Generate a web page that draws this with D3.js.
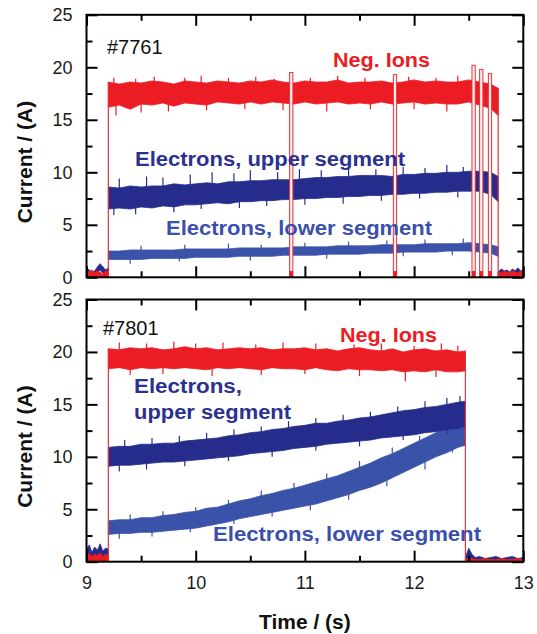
<!DOCTYPE html>
<html>
<head>
<meta charset="utf-8">
<script src="https://cdn.jsdelivr.net/npm/d3@7"></script>
<style>
  html, body { margin: 0; padding: 0; background: #fff; }
  svg { display: block; font-family: "Liberation Sans", Arial, sans-serif; }
  .tick text { font-size: 18px; fill: #1a1a1a; }
  .tick line { stroke: #000; stroke-width: 2px; }
</style>
</head>
<body>
<svg id="chart" width="537" height="634"></svg>
<script>
// ---- data (Time in s, Current in A) ----

// shot #7761 (upper panel): envelope of each noisy trace, sampled every 0.1 s
const timeA = [9.2, 9.3, 9.4, 9.5, 9.6, 9.7, 9.8, 9.9, 10.0, 10.1, 10.2, 10.3, 10.4, 10.5, 10.6, 10.7, 10.8, 10.9,
  11.0, 11.1, 11.2, 11.3, 11.4, 11.5, 11.6, 11.7, 11.8, 11.9, 12.0, 12.1, 12.2, 12.3, 12.4, 12.5, 12.6, 12.7, 12.77];
const ionsHiA = [18.6, 18.4, 18.6, 18.5, 18.7, 18.6, 18.4, 18.7, 18.6, 18.5, 18.7, 18.6, 18.5, 18.7, 18.6, 18.8, 18.6, 18.5,
  18.7, 18.6, 18.6, 18.8, 18.5, 18.6, 18.6, 18.7, 18.5, 18.6, 18.8, 18.6, 18.7, 18.6, 18.6, 18.8, 18.6, 18.4, 18.0];
const ionsLoA = [16.2, 16.4, 16.0, 16.5, 16.4, 16.6, 16.3, 16.6, 16.5, 16.4, 16.7, 16.6, 16.5, 16.7, 16.5, 16.7, 16.6, 16.5,
  16.7, 16.5, 16.6, 16.7, 16.5, 16.6, 16.5, 16.7, 16.5, 16.6, 16.7, 16.5, 16.6, 16.5, 16.5, 16.7, 16.4, 16.1, 15.4];
const upperHiA = [8.6, 8.5, 8.7, 8.6, 8.7, 8.7, 8.9, 8.8, 8.9, 9.0, 8.9, 9.1, 9.1, 9.2, 9.2, 9.3, 9.3, 9.3,
  9.4, 9.5, 9.5, 9.6, 9.6, 9.7, 9.7, 9.7, 9.6, 9.8, 9.8, 9.9, 9.9, 10.0, 10.0, 10.1, 10.1, 10.0, 9.6];
const upperLoA = [6.5, 6.6, 6.5, 6.7, 6.6, 6.8, 6.7, 6.9, 6.9, 7.0, 7.1, 7.0, 7.2, 7.2, 7.3, 7.3, 7.4, 7.4,
  7.5, 7.5, 7.6, 7.6, 7.7, 7.7, 7.8, 7.8, 7.9, 7.9, 8.0, 8.0, 8.1, 8.1, 8.2, 8.2, 8.2, 7.9, 7.2];
const lowerHiA = [2.5, 2.5, 2.6, 2.6, 2.6, 2.6, 2.6, 2.7, 2.7, 2.7, 2.7, 2.7, 2.8, 2.8, 2.8, 2.8, 2.8, 2.9,
  2.9, 2.9, 2.9, 3.0, 3.0, 3.0, 3.0, 3.1, 3.1, 3.1, 3.1, 3.2, 3.2, 3.2, 3.2, 3.3, 3.2, 3.1, 2.9];
const lowerLoA = [1.7, 1.7, 1.7, 1.7, 1.8, 1.8, 1.8, 1.8, 1.9, 1.9, 1.9, 1.9, 2.0, 2.0, 2.0, 2.0, 2.1, 2.1,
  2.1, 2.1, 2.2, 2.2, 2.2, 2.2, 2.3, 2.3, 2.3, 2.4, 2.4, 2.4, 2.4, 2.5, 2.5, 2.5, 2.4, 2.3, 2.0];
// spikes sticking out of each trace: [time, tip value]
const ionsSpikesA = [[9.25, 19.0], [9.45, 18.9], [9.62, 19.1], [9.9, 19.0], [10.05, 19.2], [10.3, 19.0], [10.55, 19.1],
  [10.72, 18.9], [11.05, 19.0], [11.3, 19.2], [11.55, 19.0], [11.95, 19.1], [12.2, 19.0], [12.4, 19.2],
  [9.27, 15.4], [9.5, 15.7], [9.75, 15.8], [10.1, 15.9], [10.45, 16.0], [10.8, 15.9], [11.2, 15.8], [11.6, 16.0],
  [12.0, 16.0], [12.3, 15.8]];
const upperSpikesA = [[9.3, 9.4], [9.55, 9.6], [9.7, 9.5], [9.95, 9.8], [10.15, 10.0], [10.35, 9.9], [10.5, 10.2],
  [10.75, 10.0], [10.95, 10.3], [11.15, 10.2], [11.4, 10.4], [11.65, 10.3], [11.9, 10.5], [12.1, 10.4], [12.3, 10.7],
  [12.45, 10.5], [12.62, 10.4],
  [9.25, 5.9], [9.45, 6.0], [9.8, 6.2], [10.05, 6.5], [10.4, 6.6], [10.65, 6.8], [11.0, 6.9], [11.35, 7.0],
  [11.7, 7.3], [12.05, 7.5], [12.4, 7.6]];
const lowerSpikesA = [[9.5, 3.0], [9.9, 3.1], [10.3, 3.2], [10.6, 3.1], [11.0, 3.3], [11.4, 3.4], [11.75, 3.5],
  [12.1, 3.6], [12.45, 3.7], [9.4, 1.3], [9.85, 1.5], [10.5, 1.6], [11.2, 1.8], [11.9, 2.0], [12.35, 2.1]];
// beam interruptions in #7761: [start, end, peak of the red trace]
const tripsA = [[10.86, 10.89, 19.5], [11.81, 11.84, 19.3], [12.53, 12.56, 20.2], [12.60, 12.63, 19.8], [12.68, 12.71, 19.4]];

// shot #7801 (lower panel)
const timeB = [9.2, 9.3, 9.4, 9.5, 9.6, 9.7, 9.8, 9.9, 10.0, 10.1, 10.2, 10.3, 10.4, 10.5, 10.6, 10.7, 10.8, 10.9,
  11.0, 11.1, 11.2, 11.3, 11.4, 11.5, 11.6, 11.7, 11.8, 11.9, 12.0, 12.1, 12.2, 12.3, 12.4, 12.47];
const ionsHiB = [20.3, 20.2, 20.4, 20.3, 20.4, 20.2, 20.3, 20.5, 20.3, 20.4, 20.2, 20.3, 20.4, 20.3, 20.4, 20.2, 20.3, 20.3,
  20.4, 20.2, 20.3, 20.1, 20.3, 20.4, 20.2, 20.1, 20.3, 20.0, 20.2, 20.3, 20.1, 20.2, 20.0, 20.1];
const ionsLoB = [18.4, 18.5, 18.3, 18.5, 18.4, 18.5, 18.4, 18.5, 18.4, 18.3, 18.5, 18.4, 18.5, 18.4, 18.3, 18.5, 18.4, 18.4,
  18.3, 18.5, 18.3, 18.2, 18.4, 18.3, 18.3, 18.2, 18.3, 18.1, 18.2, 18.1, 18.3, 18.1, 18.1, 18.2];
const upperHiB = [10.9, 11.0, 11.0, 11.2, 11.2, 11.3, 11.3, 11.5, 11.6, 11.7, 11.8, 12.0, 12.1, 12.3, 12.4, 12.6, 12.7, 12.9,
  13.0, 13.2, 13.2, 13.4, 13.5, 13.7, 13.8, 14.0, 14.2, 14.4, 14.5, 14.7, 14.8, 15.0, 15.2, 15.3];
const upperLoB = [9.1, 9.2, 9.2, 9.3, 9.4, 9.5, 9.5, 9.6, 9.7, 9.8, 9.9, 10.0, 10.1, 10.3, 10.4, 10.5, 10.6, 10.8,
  10.9, 11.0, 11.2, 11.3, 11.4, 11.5, 11.6, 11.8, 11.9, 12.0, 12.1, 12.3, 12.4, 12.6, 12.7, 12.9];
const lowerHiB = [3.9, 4.0, 4.0, 4.2, 4.2, 4.4, 4.5, 4.7, 4.8, 5.1, 5.2, 5.5, 5.8, 6.0, 6.3, 6.5, 6.8, 7.0,
  7.3, 7.6, 7.9, 8.2, 8.6, 9.0, 9.4, 9.9, 10.3, 10.8, 11.3, 11.8, 12.3, 12.8, 13.2, 13.4];
const lowerLoB = [2.6, 2.7, 2.7, 2.8, 2.8, 2.9, 3.0, 3.1, 3.2, 3.4, 3.6, 3.8, 4.1, 4.3, 4.5, 4.7, 4.9, 5.1,
  5.3, 5.5, 5.8, 6.1, 6.4, 6.8, 7.1, 7.5, 8.0, 8.5, 9.0, 9.5, 10.0, 10.4, 10.9, 11.1];
const ionsSpikesB = [[9.3, 20.9], [9.55, 20.8], [9.8, 21.0], [10.0, 20.8], [10.25, 20.9], [10.55, 20.7], [10.8, 20.9],
  [11.1, 20.8], [11.45, 20.7], [11.7, 20.8], [12.0, 20.6], [12.25, 20.8], [12.4, 20.6],
  [9.4, 17.8], [9.7, 17.9], [10.15, 17.7], [10.6, 17.8], [11.0, 17.9], [11.5, 17.7], [11.92, 17.2], [12.2, 17.6]];
const upperSpikesB = [[9.35, 11.6], [9.6, 11.8], [9.85, 12.0], [10.1, 12.3], [10.35, 12.6], [10.6, 12.9], [10.85, 13.4],
  [11.1, 13.7], [11.35, 14.0], [11.6, 14.3], [11.85, 14.8], [12.1, 15.3], [12.3, 15.6], [12.42, 15.8],
  [9.3, 8.6], [9.55, 8.8], [9.9, 9.1], [10.3, 9.6], [10.7, 10.0], [11.1, 10.6], [11.5, 11.0], [11.9, 11.6], [12.3, 12.2]];
const lowerSpikesB = [[9.4, 4.5], [9.7, 4.8], [10.0, 5.2], [10.3, 5.9], [10.6, 6.8], [10.9, 7.5], [11.2, 8.4],
  [11.5, 9.6], [11.8, 10.9], [12.05, 12.0], [12.3, 13.4],
  [9.3, 2.2], [9.6, 2.4], [9.95, 2.8], [10.35, 3.6], [10.7, 4.3], [11.05, 4.9], [11.4, 5.9], [11.75, 7.2],
  [12.1, 8.8], [12.35, 10.4]];
const tripsB = [];

// background (beam off) before and after the pulse
const offPreTime = [9.0, 9.025, 9.05, 9.075, 9.1, 9.125, 9.15, 9.175, 9.2];
const offPreBlueHiA = [0.9, 0.7, 0.5, 0.6, 1.0, 1.3, 1.0, 0.7, 0.9];
const offPreBlueLoA = [0.4, 0.2, 0.0, 0.1, 0.5, 0.7, 0.4, 0.2, 0.3];
const offPreRedA = [0.6, 0.5, 0.7, 0.4, 0.6, 0.5, 0.3, 0.6, 0.5];
const offPostTimeA = [12.77, 12.8, 12.825, 12.85, 12.875, 12.9, 12.925, 12.95, 12.975, 13.0];
const offPostBlueHiA = [0.5, 0.8, 0.6, 0.7, 0.5, 0.8, 0.6, 0.9, 0.6, 0.7];
const offPostBlueLoA = [0.1, 0.3, 0.2, 0.3, 0.1, 0.3, 0.2, 0.4, 0.2, 0.3];
const offPostRedA = [0.5, 0.4, 0.6, 0.5, 0.4, 0.6, 0.5, 0.4, 0.6, 0.5];
const offPreBlueHiB = [1.2, 1.6, 0.9, 1.4, 1.1, 1.7, 1.0, 1.3, 1.2];
const offPreBlueLoB = [0.2, 0.4, 0.1, 0.3, 0.2, 0.5, 0.1, 0.3, 0.2];
const offPreRedB = [0.6, 0.8, 0.5, 0.7, 0.6, 0.8, 0.5, 0.7, 0.6];
const offPostTimeB = [12.47, 12.5, 12.53, 12.56, 12.6, 12.65, 12.7, 12.75, 12.8, 12.85, 12.9, 12.95, 13.0];
const offPostBlueHiB = [0.4, 1.3, 0.7, 0.4, 0.5, 0.3, 0.4, 0.5, 0.3, 0.4, 0.5, 0.3, 0.4];
const offPostBlueLoB = [0.1, 0.2, 0.1, 0.1, 0.2, 0.1, 0.1, 0.2, 0.1, 0.1, 0.2, 0.1, 0.1];
const offPostRedB = [0.3, 0.2, 0.3, 0.2, 0.2, 0.3, 0.2, 0.2, 0.3, 0.2, 0.2, 0.3, 0.2];

// axes
const xMajor = [9, 10, 11, 12, 13];
const xMinor = [9.5, 10.5, 11.5, 12.5];
const yMajor = [0, 5, 10, 15, 20, 25];
const yMinor = [2.5, 7.5, 12.5, 17.5, 22.5];

const colors = { ions: "#ec1c24", upper: "#262c8c", lower: "#3a52a8", trip: "#e3323a" };

const svg = d3.select("#chart");
const x = d3.scaleLinear().domain([9, 13]).range([86.5, 523.3]);

const panels = [
  {
    top: 14.8, bottom: 277.3, shot: "#7761", shotX: 107, shotY: 54,
    time: timeA, trips: tripsA,
    traces: [
      { hi: lowerHiA, lo: lowerLoA, spikes: lowerSpikesA, color: colors.lower },
      { hi: upperHiA, lo: upperLoA, spikes: upperSpikesA, color: colors.upper },
      { hi: ionsHiA, lo: ionsLoA, spikes: ionsSpikesA, color: colors.ions }
    ],
    ionsHi: ionsHiA,
    preBlueHi: offPreBlueHiA, preBlueLo: offPreBlueLoA, preRed: offPreRedA,
    postTime: offPostTimeA, postBlueHi: offPostBlueHiA, postBlueLo: offPostBlueLoA, postRed: offPostRedA,
    labels: [
      { text: "Neg. Ions", x: 333, y: 67, len: 97, color: colors.ions },
      { text: "Electrons, upper segment", x: 135, y: 166, len: 270, color: "#2b3190" },
      { text: "Electrons, lower segment", x: 166, y: 235, len: 266, color: "#3b4fac" }
    ],
    showX: false
  },
  {
    top: 299.5, bottom: 561.7, shot: "#7801", shotX: 103, shotY: 335,
    time: timeB, trips: tripsB,
    traces: [
      { hi: lowerHiB, lo: lowerLoB, spikes: lowerSpikesB, color: colors.lower },
      { hi: upperHiB, lo: upperLoB, spikes: upperSpikesB, color: colors.upper },
      { hi: ionsHiB, lo: ionsLoB, spikes: ionsSpikesB, color: colors.ions }
    ],
    ionsHi: ionsHiB,
    preBlueHi: offPreBlueHiB, preBlueLo: offPreBlueLoB, preRed: offPreRedB,
    postTime: offPostTimeB, postBlueHi: offPostBlueHiB, postBlueLo: offPostBlueLoB, postRed: offPostRedB,
    labels: [
      { text: "Neg. Ions", x: 340, y: 342, len: 97, color: colors.ions },
      { text: "Electrons,", x: 134, y: 393, len: 108, color: "#2b3190" },
      { text: "upper segment", x: 134, y: 419, len: 157, color: "#2b3190" },
      { text: "Electrons, lower segment", x: 213, y: 541, len: 268, color: "#3b4fac" }
    ],
    showX: true
  }
];

function band(g, y, t, hi, lo, color) {
  const pts = t.map((d, i) => ({ t: d, hi: hi[i], lo: lo[i] }));
  const area = d3.area().x(d => x(d.t)).y0(d => y(d.lo)).y1(d => y(d.hi));
  g.append("path")
    .datum(pts)
    .attr("d", area)
    .attr("fill", color)
    .attr("stroke", color)
    .attr("stroke-width", 0.8)
    .attr("stroke-linejoin", "miter");
}

// thin hair-like spikes, drawn from the middle of the band out to the tip
function spikes(g, y, t, hi, lo, list, color) {
  const mid = t.map((d, i) => (hi[i] + lo[i]) / 2);
  const midAt = d3.scaleLinear().domain(t).range(mid);
  g.append("g").selectAll("line")
    .data(list)
    .join("line")
    .attr("x1", d => x(d[0])).attr("x2", d => x(d[0]))
    .attr("y1", d => y(midAt(d[0]))).attr("y2", d => y(d[1]))
    .attr("stroke", color)
    .attr("stroke-width", 1.2);
}

panels.forEach((p) => {
  const y = d3.scaleLinear().domain([0, 25]).range([p.bottom, p.top]);
  const g = svg.append("g");
  const zeros = (arr) => arr.map(() => 0);

  // beam-off background
  band(g, y, offPreTime, p.preBlueHi, p.preBlueLo, colors.upper);
  band(g, y, offPreTime, p.preRed, zeros(p.preRed), colors.ions);
  band(g, y, p.postTime, p.postBlueHi, p.postBlueLo, colors.upper);
  band(g, y, p.postTime, p.postRed, zeros(p.postRed), colors.ions);

  // beam-on traces
  p.traces.forEach((tr) => {
    spikes(g, y, p.time, tr.hi, tr.lo, tr.spikes, tr.color);
    band(g, y, p.time, tr.hi, tr.lo, tr.color);
  });

  // rising and falling edges of the ion current
  const t0 = p.time[0], t1 = p.time[p.time.length - 1];
  g.append("line")
    .attr("x1", x(t0)).attr("x2", x(t0))
    .attr("y1", y(0)).attr("y2", y(p.ionsHi[0]))
    .attr("stroke", colors.trip).attr("stroke-width", 1.2);
  g.append("line")
    .attr("x1", x(t1)).attr("x2", x(t1))
    .attr("y1", y(0)).attr("y2", y(p.ionsHi[p.ionsHi.length - 1]))
    .attr("stroke", colors.trip).attr("stroke-width", 1.2);

  // interruptions
  p.trips.forEach(([a, b, peak]) => {
    g.append("rect")
      .attr("x", x(a)).attr("width", x(b) - x(a))
      .attr("y", y(peak)).attr("height", y(0) - y(peak))
      .attr("fill", "#fdeeee")
      .attr("stroke", colors.trip).attr("stroke-width", 1);
    g.append("rect")
      .attr("x", x(a)).attr("width", x(b) - x(a))
      .attr("y", y(0.6)).attr("height", y(0) - y(0.6))
      .attr("fill", colors.ions);
  });

  // axes, ticks inward on all four sides
  const inward = (axis, vals, size, fmt) => axis.tickValues(vals).tickSizeInner(-size).tickSizeOuter(0)
    .tickPadding(14).tickFormat(fmt);
  const none = () => "";

  const left = g.append("g").attr("transform", `translate(${x(9)},0)`);
  left.append("g").call(inward(d3.axisLeft(y), yMajor, 11, d3.format("d")));
  left.append("g").call(inward(d3.axisLeft(y), yMinor, 6, none));
  const right = g.append("g").attr("transform", `translate(${x(13)},0)`);
  right.append("g").call(inward(d3.axisRight(y), yMajor, 11, none));
  right.append("g").call(inward(d3.axisRight(y), yMinor, 6, none));
  const bottom = g.append("g").attr("transform", `translate(0,${y(0)})`);
  bottom.append("g").call(inward(d3.axisBottom(x), xMajor, 11, p.showX ? d3.format("d") : none).tickPadding(15));
  bottom.append("g").call(inward(d3.axisBottom(x), xMinor, 6, none));
  const topAx = g.append("g").attr("transform", `translate(0,${y(25)})`);
  topAx.append("g").call(inward(d3.axisTop(x), xMajor, 11, none));
  topAx.append("g").call(inward(d3.axisTop(x), xMinor, 6, none));
  g.selectAll(".domain").remove();
  g.selectAll(".tick text").attr("fill", "#1a1a1a");

  g.append("rect")
    .attr("x", x(9)).attr("y", y(25))
    .attr("width", x(13) - x(9)).attr("height", y(0) - y(25))
    .attr("fill", "none").attr("stroke", "#000").attr("stroke-width", 2);

  // annotations
  g.append("text")
    .attr("x", p.shotX).attr("y", p.shotY)
    .attr("font-size", 20).attr("fill", "#111")
    .text(p.shot);

  p.labels.forEach((l) => {
    g.append("text")
      .attr("x", l.x).attr("y", l.y)
      .attr("font-size", 20).attr("font-weight", "bold")
      .attr("fill", l.color)
      .attr("textLength", l.len).attr("lengthAdjust", "spacingAndGlyphs")
      .text(l.text);
  });

  // y-axis title
  g.append("text")
    .attr("transform", `translate(32,${(p.top + p.bottom) / 2 + 16}) rotate(-90)`)
    .attr("text-anchor", "middle")
    .attr("font-size", 21).attr("font-weight", "bold").attr("fill", "#111")
    .text("Current / (A)");
});

// x-axis title
svg.append("text")
  .attr("x", x(11)).attr("y", 629)
  .attr("text-anchor", "middle")
  .attr("font-size", 21).attr("font-weight", "bold").attr("fill", "#111")
  .text("Time / (s)");
</script>
</body>
</html>
